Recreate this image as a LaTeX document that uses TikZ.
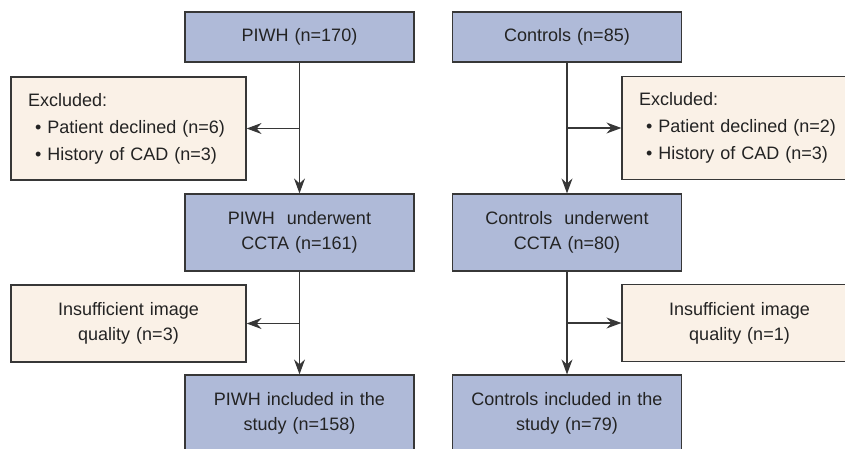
\documentclass[tikz,border=0pt]{standalone}
\usepackage{fontspec}
\setmainfont{Liberation Sans}
\usetikzlibrary{arrows.meta}

\definecolor{boxblue}{RGB}{175,186,216}
\definecolor{boxcream}{RGB}{250,241,231}
\definecolor{edgegray}{RGB}{55,55,55}
\definecolor{textgray}{RGB}{35,35,35}

\begin{document}
\begin{tikzpicture}[x=1pt, y=1pt,
    every node/.style={text=textgray, font=\fontsize{18}{25}\selectfont},
    mainbox/.style={draw=edgegray, fill=boxblue, line width=1.2pt, text width=229pt, align=center, inner sep=0pt},
    sidebox/.style={draw=edgegray, fill=boxcream, line width=1.2pt, text width=235pt, align=center, inner sep=0pt, minimum height=77pt},
    exclbox/.style={sidebox, text width=201pt, inner xsep=17pt, align=left, minimum height=103pt, font=\fontsize{18}{27}\selectfont},
    flow/.style={draw=edgegray, line width=1.2pt, -{Stealth[length=15pt, width=11pt, inset=5pt]}}]
      \def\lx{299.5}
      \def\rx{567}

      \useasboundingbox (0,0) rectangle (845,-448);
      \clip (0,0) rectangle (845,-448);

      \node[mainbox, minimum height=50pt] (piwh) at (\lx,-37) {PIWH (n=170)};
      \node[mainbox, minimum height=50pt] (ctrl) at (\rx,-37) {Controls (n=85)};

      \node[exclbox] (exclL) at (128.5,-128.5) {Excluded:\\
        \hspace*{7pt}\textbullet\ Patient declined (n=6)\\
        \hspace*{7pt}\textbullet\ History of CAD (n=3)};
      \node[exclbox] (exclR) at (739.5,-128) {Excluded:\\
        \hspace*{7pt}\textbullet\ Patient declined (n=2)\\
        \hspace*{7pt}\textbullet\ History of CAD (n=3)};

      \node[mainbox, minimum height=77pt] (piwhCT) at (\lx,-232.5) {PIWH~ underwent\\CCTA (n=161)};
      \node[mainbox, minimum height=77pt] (ctrlCT) at (\rx,-232.5) {Controls~ underwent\\CCTA (n=80)};

      \node[sidebox] (qualL) at (128.5,-323.5) {Insufficient image\\quality (n=3)};
      \node[sidebox] (qualR) at (739.5,-323) {Insufficient image\\quality (n=1)};

      \node[mainbox, minimum height=77pt] (piwhIn) at (\lx,-413.5) {PIWH included in the\\study (n=158)};
      \node[mainbox, minimum height=77pt] (ctrlIn) at (\rx,-413.5) {Controls included in the\\study (n=79)};

      \draw[flow] (piwh) -- (piwhCT);
      \draw[flow] (piwh.south |- exclL.east) -- (exclL.east);
      \draw[flow] (piwhCT) -- (piwhIn);
      \draw[flow] (piwhCT.south |- qualL.east) -- (qualL.east);

      \draw[flow] (ctrl) -- (ctrlCT);
      \draw[flow] (ctrl.south |- exclR.west) -- (exclR.west);
      \draw[flow] (ctrlCT) -- (ctrlIn);
      \draw[flow] (ctrlCT.south |- qualR.west) -- (qualR.west);

    \end{tikzpicture}
\end{document}
